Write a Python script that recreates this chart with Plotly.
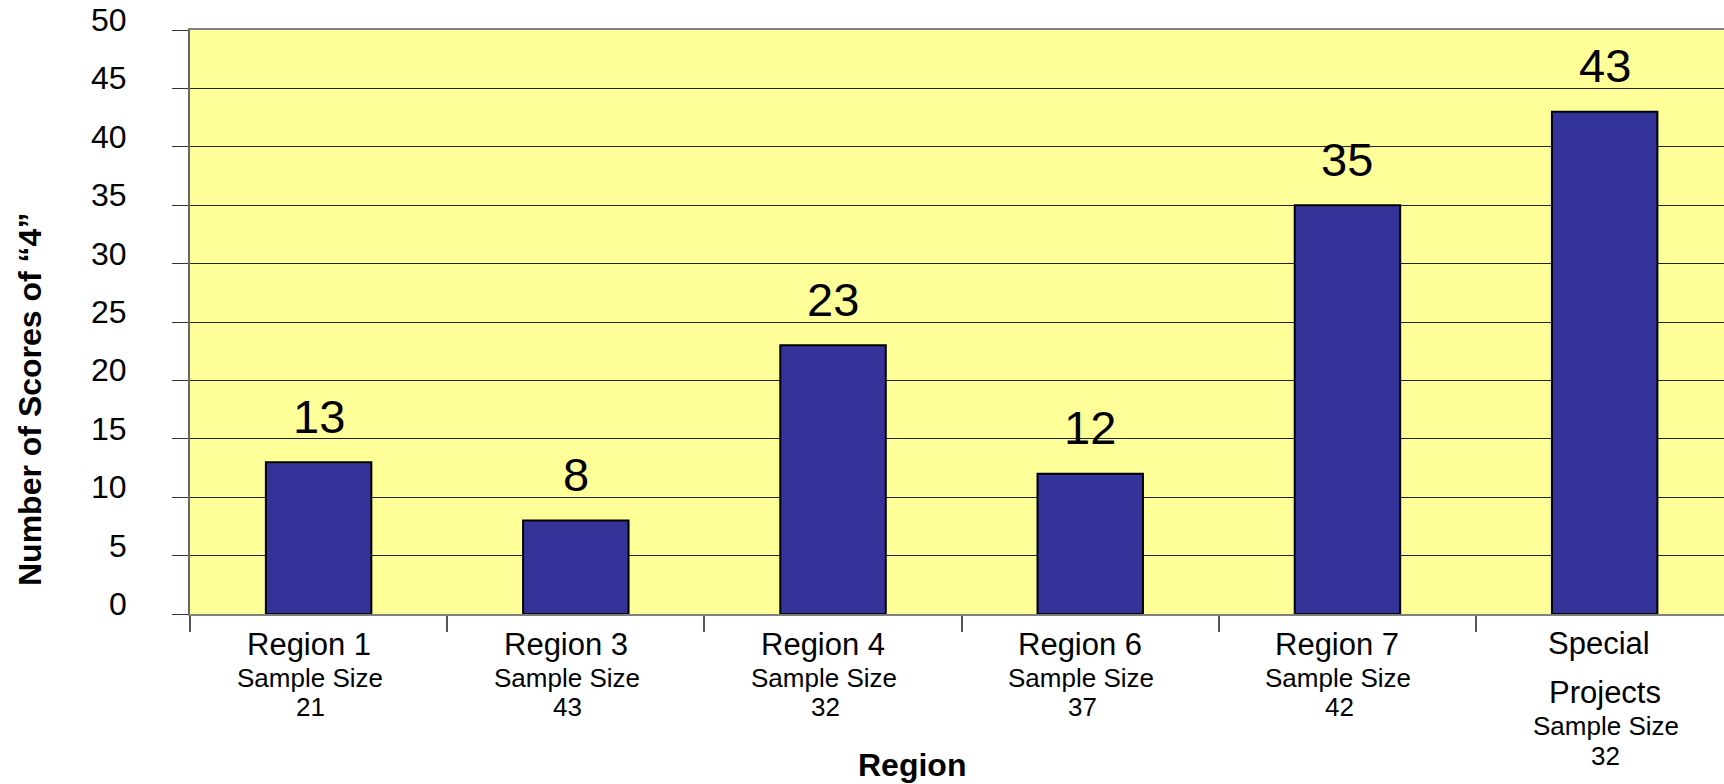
import plotly.graph_objects as go

# ---- data ----
regions = ["Region 1", "Region 3", "Region 4", "Region 6", "Region 7", "Special Projects"]
region_lines = [["Region 1"], ["Region 3"], ["Region 4"], ["Region 6"], ["Region 7"], ["Special", "Projects"]]
sample_sizes = [21, 43, 32, 37, 42, 32]
scores_of_4 = [13, 8, 23, 12, 35, 43]
y_tick_vals = [0, 5, 10, 15, 20, 25, 30, 35, 40, 45, 50]

FONT = "Arial, Liberation Sans, sans-serif"
W, H = 1724, 784
PLOT_TOP, PLOT_BOTTOM = 30, 614
PLOT_H = PLOT_BOTTOM - PLOT_TOP
PLOT_L = 190
PLOT_W = W - PLOT_L


def ypaper(pix):
    return (PLOT_BOTTOM - pix) / PLOT_H


def xpaper(pix):
    return (pix - PLOT_L) / PLOT_W


x_idx = list(range(len(regions)))
x_bounds = [i - 0.5 for i in range(len(regions) + 1)]

fig = go.Figure()
fig.add_trace(go.Bar(
    x=x_idx, y=scores_of_4, width=0.41,
    marker=dict(color="#333399", line=dict(color="#000000", width=2)),
    hoverinfo="skip", showlegend=False,
))

ann = []
# data labels
for i, v in enumerate(scores_of_4):
    ann.append(dict(x=i, y=v, xref="x", yref="y", text=str(v), showarrow=False,
                    yanchor="middle", xanchor="center", yshift=46,
                    font=dict(family=FONT, size=47, color="#000000")))
# y tick labels
for v in y_tick_vals:
    ann.append(dict(x=xpaper(129), y=v, xref="paper", yref="y", text=str(v), showarrow=False,
                    xanchor="right", yanchor="middle", yshift=10,
                    font=dict(family=FONT, size=32, color="#000000")))
# x category labels
for i, lines in enumerate(region_lines):
    if len(lines) == 1:
        ys = [644, 678, 707]
        xs = [-10, -9, -8]
    else:
        ys = [643, 692, 726, 756]
        xs = [-6, 0, 1, 1]
    texts = lines + ["Sample Size", str(sample_sizes[i])]
    sizes = [31] * len(lines) + [26, 26]
    for t, yy, s, dx in zip(texts, ys, sizes, xs):
        ann.append(dict(x=i, y=ypaper(yy), xref="x", yref="paper", text=t, showarrow=False,
                        xanchor="center", yanchor="middle", xshift=dx,
                        font=dict(family=FONT, size=s, color="#000000")))
# axis titles
ann.append(dict(x=xpaper(912), y=ypaper(765), xref="paper", yref="paper", text="<b>Region</b>",
                showarrow=False, xanchor="center", yanchor="middle",
                font=dict(family=FONT, size=32, color="#000000")))
ann.append(dict(x=xpaper(30), y=ypaper(400), xref="paper", yref="paper",
                text="<b>Number of Scores of \u201c4\u201d</b>", textangle=-90,
                showarrow=False, xanchor="center", yanchor="middle",
                font=dict(family=FONT, size=32, color="#000000")))

fig.update_layout(
    width=W, height=H,
    margin=dict(l=PLOT_L, r=0, t=PLOT_TOP, b=H - PLOT_BOTTOM, pad=0),
    paper_bgcolor="#FFFFFF", plot_bgcolor="#FFFF99",
    font=dict(family=FONT, color="#000000"),
    annotations=ann,
    xaxis=dict(range=[-0.5, 5.464], tickvals=x_bounds,
               ticks="outside", ticklen=16, tickcolor="#555555", tickwidth=1.5,
               showticklabels=False, showgrid=False, zeroline=False,
               showline=True, linecolor="#808080", linewidth=2, mirror=True),
    yaxis=dict(range=[0, 50], tickvals=y_tick_vals, ticks="outside", ticklen=16,
               tickcolor="#333333", tickwidth=1.2, showticklabels=False,
               showgrid=True, gridcolor="#222222", gridwidth=1,
               zeroline=False, showline=True, linecolor="#666666", linewidth=2),
)

fig.write_html("out.html")
